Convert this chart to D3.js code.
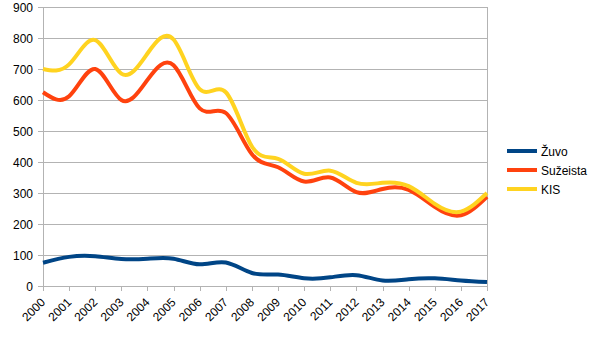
<!DOCTYPE html>
<html>
<head>
<meta charset="utf-8">
<script src="https://cdn.jsdelivr.net/npm/d3@7"></script>
<style>
  html, body { margin: 0; padding: 0; background: #fff; }
  svg { display: block; font-family: "Liberation Sans", Arial, sans-serif; }
</style>
</head>
<body>
<svg id="chart" width="605" height="340"></svg>
<script>
// Road accident statistics by year
const years = [2000, 2001, 2002, 2003, 2004, 2005, 2006, 2007, 2008,
               2009, 2010, 2011, 2012, 2013, 2014, 2015, 2016, 2017];
const zuvo     = [75, 94, 96, 87, 88, 88, 70, 76, 42, 37, 25, 28, 35, 18, 22, 25, 18, 13];
const suzeista = [625, 612, 700, 600, 665, 712, 573, 558, 425, 383, 337, 350, 303, 313, 310, 255, 228, 288];
const kis      = [700, 715, 793, 685, 750, 795, 635, 625, 450, 410, 362, 372, 333, 333, 322, 265, 240, 300];
const yTicks   = [0, 100, 200, 300, 400, 500, 600, 700, 800, 900];

const seriesNames  = ["Žuvo", "Sužeista", "KIS"];
const seriesValues = [zuvo, suzeista, kis];
const seriesColors = ["#004586", "#ff420e", "#ffd320"];

const svg = d3.select("#chart");
const plotLeft = 43, plotRight = 487, plotTop = 7, plotBottom = 286;

const x = d3.scalePoint().domain(years).range([plotLeft, plotRight]).padding(0);
const y = d3.scaleLinear().domain([0, 900]).range([plotBottom, plotTop]);

const gridColor = "#b3b3b3";

// horizontal grid
svg.append("g").selectAll("line").data(yTicks).join("line")
  .attr("x1", plotLeft - 5).attr("x2", plotRight)
  .attr("y1", d => y(d) + 0.5).attr("y2", d => y(d) + 0.5)
  .attr("stroke", gridColor).attr("stroke-width", 1);

// plot frame: left axis and right edge
svg.append("line").attr("x1", plotLeft + 0.5).attr("x2", plotLeft + 0.5)
  .attr("y1", plotTop).attr("y2", plotBottom + 5).attr("stroke", gridColor);
svg.append("line").attr("x1", plotRight + 0.5).attr("x2", plotRight + 0.5)
  .attr("y1", plotTop).attr("y2", plotBottom + 0.5).attr("stroke", gridColor);

// x tick marks
svg.append("g").selectAll("line").data(years).join("line")
  .attr("x1", d => Math.round(x(d)) + 0.5).attr("x2", d => Math.round(x(d)) + 0.5)
  .attr("y1", plotBottom).attr("y2", plotBottom + 5)
  .attr("stroke", gridColor);

// y labels
svg.append("g").selectAll("text").data(yTicks).join("text")
  .attr("x", plotLeft - 10).attr("y", d => y(d) + 4.5)
  .attr("text-anchor", "end")
  .attr("font-size", 12).attr("fill", "#000")
  .text(d => d);

// x labels, rotated
svg.append("g").selectAll("text").data(years).join("text")
  .attr("transform", d => `translate(${x(d) + 3},${plotBottom + 17}) rotate(-45)`)
  .attr("text-anchor", "end")
  .attr("font-size", 12).attr("fill", "#000")
  .text(d => d);

// series lines
const line = d3.line()
  .x((d, i) => x(years[i]))
  .y(d => y(d))
  .curve(d3.curveNatural);

seriesValues.forEach((vals, k) => {
  svg.append("path")
    .attr("d", line(vals))
    .attr("fill", "none")
    .attr("stroke", seriesColors[k])
    .attr("stroke-width", 4)
    .attr("stroke-linejoin", "round");
});

// legend
const legend = svg.append("g").attr("transform", "translate(507,151)");
seriesNames.forEach((name, k) => {
  const g = legend.append("g").attr("transform", `translate(0,${k * 19})`);
  g.append("line").attr("x1", 0).attr("x2", 30).attr("y1", 0).attr("y2", 0)
    .attr("stroke", seriesColors[k]).attr("stroke-width", 4);
  g.append("text").attr("x", 34).attr("y", 4.5)
    .attr("font-size", 12).attr("fill", "#000").text(name);
});
</script>
</body>
</html>
